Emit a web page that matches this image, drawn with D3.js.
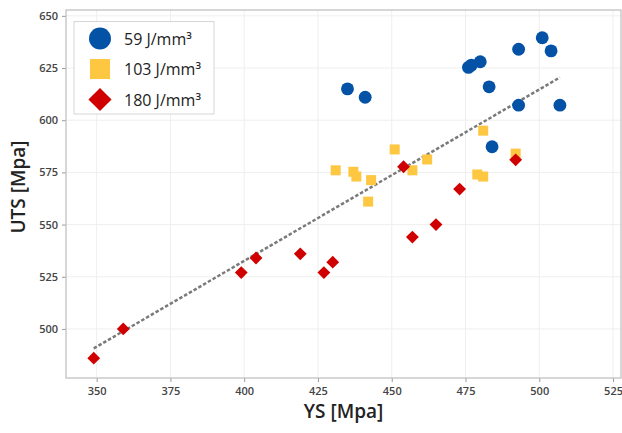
<!DOCTYPE html>
<html>
<head>
  <meta charset="utf-8">
  <script src="https://cdn.jsdelivr.net/npm/d3@7"></script>
  <style>
    body { margin: 0; background: #fff; }
    svg text { font-family: "Open Sans", "Noto Sans", sans-serif; }
  </style>
</head>
<body>
  <svg id="chart" width="622" height="433"></svg>
  <script>
    // series: YS (x) and UTS (y)
    var ys59 = [435, 441, 476, 477, 480, 493, 501, 504, 483, 493, 507, 484];
    var uts59 = [615, 611, 625.3, 626.4, 628, 634, 639.5, 633.2, 616, 607.2, 607.2, 587.3];

    var ys103 = [481, 451, 492, 431, 437, 438, 443, 442, 457, 462, 479, 481];
    var uts103 = [595, 586, 584, 576, 575.3, 573, 571.3, 561, 576, 581.2, 574, 573];

    var ys180 = [349, 359, 399, 404, 419, 427, 430, 454, 457, 465, 473, 492];
    var uts180 = [486, 500, 527, 534, 536, 527, 532, 577.7, 544, 550, 567, 581];

    // dashed trend line end points
    var trendX = [349, 507];
    var trendY = [490.7, 620.5];

    var xTicks = [350, 375, 400, 425, 450, 475, 500, 525];
    var yTicks = [500, 525, 550, 575, 600, 625, 650];

    var legendLabels = ["59 J/mm\u00B3", "103 J/mm\u00B3", "180 J/mm\u00B3"];
    var colors = ["#0352A6", "#FDC741", "#D00000"];

    var plotL = 66, plotR = 621, plotT = 10, plotB = 378;
    var svg = d3.select("#chart");

    var x = d3.scaleLinear().domain([339.6, 527.7]).range([plotL, plotR]);
    var y = d3.scaleLinear().domain([476.5, 652.8]).range([plotB, plotT]);

    // grid
    svg.append("g").selectAll("line").data(xTicks).join("line")
      .attr("x1", d => x(d)).attr("x2", d => x(d))
      .attr("y1", plotT).attr("y2", plotB)
      .attr("stroke", "#efefef");
    svg.append("g").selectAll("line").data(yTicks).join("line")
      .attr("x1", plotL).attr("x2", plotR)
      .attr("y1", d => y(d)).attr("y2", d => y(d))
      .attr("stroke", "#efefef");

    // axes
    var xAxis = svg.append("g")
      .attr("transform", "translate(0," + plotB + ")")
      .call(d3.axisBottom(x).tickValues(xTicks).tickSize(4).tickPadding(5));
    var yAxis = svg.append("g")
      .attr("transform", "translate(" + plotL + ",0)")
      .call(d3.axisLeft(y).tickValues(yTicks).tickSize(4).tickPadding(4));
    [xAxis, yAxis].forEach(function (g) {
      g.select(".domain").remove();
      g.selectAll(".tick line").attr("stroke", "#999");
      g.selectAll(".tick text").attr("fill", "#444")
        .style("font-size", "11px").style("font-weight", "600");
    });

    // plot frame
    svg.append("rect")
      .attr("x", plotL).attr("y", plotT)
      .attr("width", plotR - plotL).attr("height", plotB - plotT)
      .attr("fill", "none").attr("stroke", "#bdbdbd").attr("stroke-width", 1.2);

    // trend line
    svg.append("line")
      .attr("x1", x(trendX[0])).attr("y1", y(trendY[0]))
      .attr("x2", x(trendX[1])).attr("y2", y(trendY[1]))
      .attr("stroke", "#7a7a7a").attr("stroke-width", 2.5)
      .attr("stroke-dasharray", "3.5,2");

    var sym = [d3.symbolCircle, d3.symbolSquare, d3.symbolDiamond2];
    var sizes = [130, 100, 105];
    var sets = [[ys59, uts59], [ys103, uts103], [ys180, uts180]];

    sets.forEach(function (s, i) {
      var pts = s[0].map((v, j) => [v, s[1][j]]);
      var shape = d3.symbol().type(sym[i]).size(sizes[i]);
      svg.append("g").selectAll("path").data(pts).join("path")
        .attr("d", shape)
        .attr("transform", d => "translate(" + x(d[0]) + "," + y(d[1]) + ")")
        .attr("fill", colors[i]);
    });

    // legend
    var lg = svg.append("g");
    lg.append("rect")
      .attr("x", 74).attr("y", 21.5).attr("width", 140).attr("height", 92.5)
      .attr("fill", "#fff").attr("stroke", "#d6d6d6");
    var legSizes = [380, 400, 340];
    legendLabels.forEach(function (t, i) {
      var cy = 38.5 + i * 30.5;
      lg.append("path")
        .attr("d", d3.symbol().type(sym[i]).size(legSizes[i]))
        .attr("transform", "translate(100," + cy + ")")
        .attr("fill", colors[i]);
      lg.append("text")
        .attr("x", 124).attr("y", cy + 6)
        .attr("fill", "#222").style("font-size", "16px")
        .text(t);
    });

    // axis titles
    svg.append("text")
      .attr("x", (plotL + plotR) / 2).attr("y", 418)
      .attr("text-anchor", "middle").attr("fill", "#222")
      .style("font-size", "19px").style("font-weight", "600")
      .text("YS [Mpa]");
    svg.append("text")
      .attr("transform", "translate(25," + 187 + ") rotate(-90)")
      .attr("text-anchor", "middle").attr("fill", "#222")
      .style("font-size", "19px").style("font-weight", "600")
      .text("UTS [Mpa]");
  </script>
</body>
</html>
